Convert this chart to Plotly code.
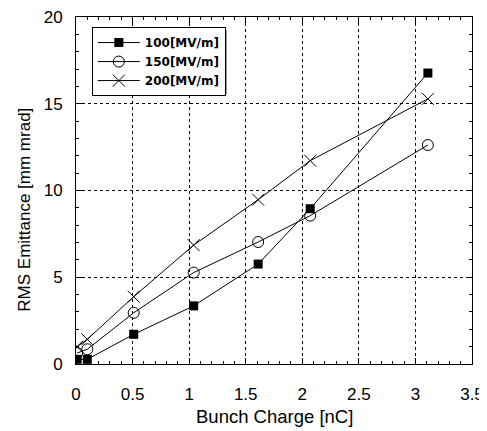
import plotly.graph_objects as go

charge = [0.01, 0.1, 0.51, 1.04, 1.61, 2.07, 3.11]
emit_100 = [0.27, 0.27, 1.71, 3.35, 5.76, 8.95, 16.77]
emit_150 = [0.63, 0.85, 2.95, 5.27, 7.03, 8.55, 12.62]
emit_200 = [1.0, 1.42, 3.88, 6.85, 9.47, 11.72, 15.28]
names = ["100[MV/m]", "150[MV/m]", "200[MV/m]"]
x_ticks = [0, 0.5, 1, 1.5, 2, 2.5, 3, 3.5]
y_ticks = [0, 5, 10, 15, 20]
x_title = "Bunch Charge [nC]"
y_title = "RMS Emittance [mm mrad]"

fig = go.Figure()
fig.add_trace(go.Scatter(x=charge, y=emit_100, name=names[0], mode="lines+markers",
                         line=dict(color="black", width=1),
                         marker=dict(symbol="square", size=9, color="black")))
fig.add_trace(go.Scatter(x=charge, y=emit_150, name=names[1], mode="lines+markers",
                         line=dict(color="black", width=1),
                         marker=dict(symbol="circle-open", size=11, color="black",
                                     line=dict(width=1, color="black"))))
fig.add_trace(go.Scatter(x=charge, y=emit_200, name=names[2], mode="lines+markers",
                         line=dict(color="black", width=1),
                         marker=dict(symbol="x-thin-open", size=12, color="black",
                                     line=dict(width=1, color="black"))))

font_family = "Liberation Sans, Arial"
axis_common = dict(
    showline=True, linecolor="black", linewidth=1, mirror="allticks",
    ticks="inside", ticklen=6, tickcolor="black",
    showgrid=True, gridcolor="black", griddash="dot", gridwidth=1,
    zeroline=False, automargin=False, ticklabeloverflow="allow",
    tickfont=dict(family=font_family, size=17, color="black"),
)

fig.update_xaxes(range=[0, 3.5], tickvals=x_ticks, ticktext=[str(v) for v in x_ticks],
                 minor=dict(dtick=0.1, ticks="inside", ticklen=3, tickcolor="black", showgrid=False),
                 ticklabelstandoff=15,
                 **axis_common)
fig.update_yaxes(range=[0, 20], tickvals=y_ticks, ticktext=[str(v) for v in y_ticks],
                 minor=dict(dtick=1, ticks="inside", ticklen=3, tickcolor="black", showgrid=False),
                 ticklabelstandoff=9,
                 **axis_common)

fig.add_annotation(text=x_title, xref="paper", yref="paper", x=0.5, y=-0.1527,
                   xanchor="center", yanchor="middle", showarrow=False,
                   font=dict(family=font_family, size=18.5, color="black"))
fig.add_annotation(text=y_title, xref="paper", yref="paper", x=-0.131, y=0.445,
                   xanchor="center", yanchor="middle", showarrow=False, textangle=-90,
                   font=dict(family=font_family, size=17, color="black"))

# legend drop shadow
fig.add_shape(type="rect", xref="paper", yref="paper",
              x0=0.048, x1=0.3785, y0=0.778, y1=0.9625,
              line=dict(color="black", width=1), fillcolor="black", layer="above")

fig.update_layout(
    width=479, height=423,
    margin=dict(l=68, r=15, t=9, b=67, autoexpand=False),
    paper_bgcolor="white", plot_bgcolor="white",
    showlegend=True,
    legend=dict(x=0.040, y=0.971, xanchor="left", yanchor="top",
                bgcolor="white", bordercolor="black", borderwidth=1,
                font=dict(family="DejaVu Sans", size=12, color="black", weight="bold"),
                tracegroupgap=0, itemwidth=42),
)

fig.write_html("out.html")
